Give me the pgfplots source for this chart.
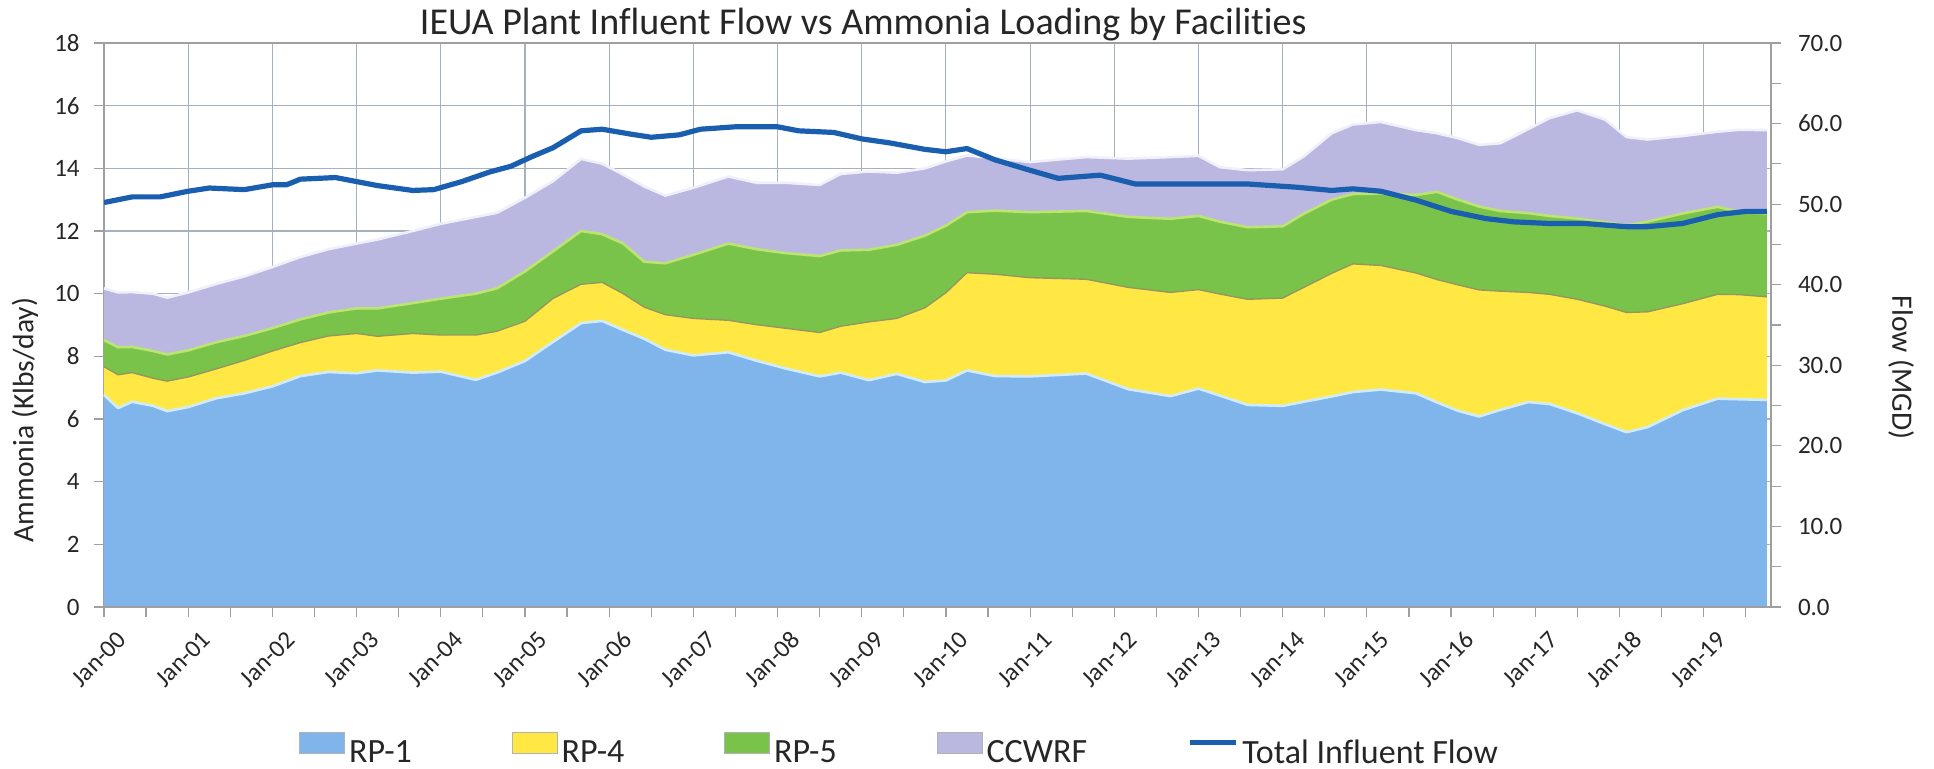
\documentclass[border=0pt]{standalone}
\usepackage{fontspec}
\setmainfont{Carlito}[Ligatures=NoCommon]
\usepackage{pgfplots}
\pgfplotsset{compat=1.18}
\usepackage{pgfplotstable}

\definecolor{rpone}{RGB}{128,181,236}
\definecolor{rponeedge}{RGB}{208,236,252}
\definecolor{rpfour}{RGB}{255,232,68}
\definecolor{rpfouredge}{RGB}{150,150,95}
\definecolor{rpfive}{RGB}{122,195,74}
\definecolor{rpfiveedge}{RGB}{188,228,112}
\definecolor{ccw}{RGB}{186,183,224}
\definecolor{ccwedge}{RGB}{240,240,252}
\definecolor{flowc}{RGB}{26,94,176}
\definecolor{gridc}{RGB}{165,178,190}

\pgfplotsset{
  boxleg/.style={legend image code/.code={\draw[##1] (0pt,0pt) rectangle (22.5pt,10.5pt);}},
  lineleg/.style={legend image code/.code={\draw[##1] (0pt,5.3pt) -- (23pt,5.3pt);}},
  chartgeom/.style={width=833.5pt, height=282pt, scale only axis, xmin=0, xmax=237.6},
}

% month index from Jan-2000, loading in Klbs/day per facility
\pgfplotstableread{
m    rp1   rp4   rp5   cc
0    6.77  0.90  0.85  1.65
2    6.35  1.06  0.88  1.75
4    6.55  0.93  0.82  1.75
7    6.42  0.88  0.87  1.83
9    6.25  0.96  0.85  1.81
12   6.38  0.96  0.85  1.85
16   6.66  0.94  0.85  1.86
20   6.82  1.05  0.78  1.90
24   7.04  1.13  0.73  1.95
28   7.37  1.07  0.74  1.99
32   7.50  1.15  0.75  2.02
36   7.46  1.27  0.80  2.07
39   7.55  1.09  0.89  2.20
44   7.48  1.25  0.97  2.30
48   7.51  1.17  1.16  2.39
53   7.25  1.43  1.32  2.45
56   7.48  1.32  1.37  2.41
60   7.85  1.27  1.59  2.35
64   8.46  1.39  1.50  2.24
68   9.06  1.24  1.70  2.30
71   9.13  1.23  1.54  2.25
74   8.84  1.16  1.60  2.20
77   8.56  1.01  1.45  2.40
80   8.21  1.12  1.64  2.16
84   8.03  1.18  2.03  2.14
89   8.13  1.02  2.45  2.14
93   7.86  1.15  2.41  2.12
97   7.62  1.28  2.40  2.24
102  7.36  1.40  2.44  2.27
105  7.48  1.48  2.42  2.44
109  7.24  1.86  2.30  2.50
113  7.44  1.77  2.35  2.30
117  7.18  2.37  2.30  2.15
120  7.23  2.80  2.14  2.05
123  7.55  3.12  1.93  1.81
127  7.37  3.25  2.03  1.67
132  7.36  3.15  2.09  1.60
140  7.45  3.01  2.18  1.72
146  6.95  3.25  2.25  1.86
152  6.73  3.31  2.35  1.97
156  6.97  3.16  2.35  1.92
159  6.75  3.24  2.31  1.74
163  6.45  3.37  2.30  1.82
168  6.42  3.44  2.29  1.82
171  6.55  3.65  2.35  1.83
175  6.72  3.93  2.35  2.12
178  6.86  4.09  2.23  2.22
182  6.94  3.96  2.30  2.28
187  6.82  3.84  2.49  2.07
190  6.53  3.92  2.80  1.87
193  6.26  4.02  2.72  1.96
196  6.08  4.04  2.66  1.97
199  6.29  3.79  2.56  2.16
203  6.54  3.50  2.53  2.68
206  6.48  3.50  2.50  3.12
210  6.18  3.64  2.58  3.45
214  5.83  3.77  2.68  3.27
217  5.58  3.82  2.78  2.82
220  5.74  3.68  2.88  2.62
225  6.28  3.40  2.88  2.47
230  6.65  3.33  2.79  2.40
233  6.63  3.34  2.65  2.61
237  6.61  3.29  2.66  2.66
}\loading

% total influent flow, MGD
\pgfplotstableread{
m    flow
0    50.2
4    50.9
8    50.9
12   51.6
15   52.0
20   51.8
24   52.4
26   52.4
28   53.1
33   53.3
36   52.8
39   52.3
44   51.7
47   51.8
51   52.8
55   54.0
58   54.7
61   55.9
64   57.0
68   59.1
71   59.3
75   58.7
78   58.3
82   58.6
85   59.3
90   59.6
96   59.6
99   59.1
104  58.9
108  58.1
112  57.6
117  56.8
120  56.5
123  56.9
127  55.5
132  54.2
136  53.2
142  53.6
147  52.5
156  52.5
163  52.5
170  52.1
175  51.7
178  51.9
182  51.6
187  50.5
192  49.1
197  48.2
201  47.8
206  47.6
211  47.6
217  47.2
220  47.2
225  47.6
230  48.7
234  49.1
237  49.1
}\flowtab

\begin{document}
\begin{tikzpicture}
\useasboundingbox (-52pt,-81pt) rectangle (915pt,303.5pt);

\begin{axis}[
  chartgeom,
  ymin=0, ymax=18,
  stack plots=y,
  xtick={0,12,...,228},
  xticklabels={Jan-00,Jan-01,Jan-02,Jan-03,Jan-04,Jan-05,Jan-06,Jan-07,Jan-08,Jan-09,
               Jan-10,Jan-11,Jan-12,Jan-13,Jan-14,Jan-15,Jan-16,Jan-17,Jan-18,Jan-19},
  minor xtick={6,18,...,234},
  ytick={0,2,...,18},
  yticklabels={0,2,4,6,8,10,12,14,16,18},
  xtick pos=bottom, ytick pos=left,
  tick align=outside,
  major tick length=5pt, minor tick length=5pt,
  grid=major,
  major grid style={draw=gridc, line width=0.55pt},
  axis line style={draw=gray!75, line width=0.6pt},
  tick style={draw=gray!75, line width=0.6pt},
  tick label style={font=\fontsize{12.5}{14}\selectfont, text=black!85},
  xticklabel style={rotate=45, anchor=east, inner sep=0pt, yshift=-13pt},
  yticklabel style={inner sep=0pt, xshift=-7pt},
  ylabel={Ammonia (Klbs/day)},
  ylabel style={at={(axis description cs:-0.0474,0.3316)}, anchor=center,
                font=\fontsize{14.8}{17}\selectfont, text=black!85},
  title={IEUA Plant Influent Flow vs Ammonia Loading by Facilities},
  every axis title/.style={at={(axis description cs:0.4555,1)}, anchor=base, yshift=4pt,
               font=\fontsize{19}{22}\selectfont, text=black!85},
]
\addplot[fill=rpone, draw=none] table[x=m,y=rp1]{\loading} \closedcycle;
\addplot[fill=rpfour, draw=none] table[x=m,y=rp4]{\loading} \closedcycle;
\addplot[fill=rpfive, draw=none] table[x=m,y=rp5]{\loading} \closedcycle;
\addplot[fill=ccw, draw=none] table[x=m,y=cc]{\loading} \closedcycle;
\end{axis}

% bevelled edges along the stacked tops, and the bottom axis line over the fill
\begin{axis}[chartgeom, ymin=0, ymax=18, hide axis, stack plots=y, clip=false]
\addplot[draw=rponeedge, line width=1.3pt, line join=round] table[x=m,y=rp1]{\loading};
\addplot[draw=rpfouredge, line width=0.7pt, line join=round] table[x=m,y=rp4]{\loading};
\addplot[draw=rpfiveedge, line width=1.3pt, line join=round] table[x=m,y=rp5]{\loading};
\addplot[draw=ccwedge, line width=1.3pt, line join=round] table[x=m,y=cc]{\loading};
\draw[gray!75, line width=0.6pt] (rel axis cs:0,0) -- (rel axis cs:1,0);
\end{axis}

\begin{axis}[
  chartgeom,
  ymin=0, ymax=70,
  axis x line=none, axis y line*=right,
  ytick={0,10,...,70},
  yticklabels={0.0,10.0,20.0,30.0,40.0,50.0,60.0,70.0},
  minor ytick={5,15,...,65},
  tick align=outside,
  major tick length=5pt, minor tick length=5pt,
  axis line style={draw=gray!75, line width=0.6pt},
  tick style={draw=gray!75, line width=0.6pt},
  tick label style={font=\fontsize{12.5}{14}\selectfont, text=black!85},
  yticklabel style={inner sep=0pt, xshift=8.3pt},
  ylabel={Flow (MGD)},
  ylabel style={at={(axis description cs:1.078,0.424)}, anchor=center, rotate=180,
                font=\fontsize{14.8}{17}\selectfont, text=black!85},
  legend columns=5,
  legend style={at={(axis description cs:0.117,-0.252)}, anchor=west,
                draw=none, fill=none, inner sep=0pt,
                font=\fontsize{17}{20}\selectfont, text=black!85,
                nodes={inner sep=0pt},
                /tikz/every even column/.append style={column sep=50pt},
                /tikz/every odd column/.append style={column sep=2pt}},
]
\addlegendimage{boxleg, fill=rpone, draw=gray!60}
\addlegendentry{RP-1}
\addlegendimage{boxleg, fill=rpfour, draw=gray!60}
\addlegendentry{RP-4}
\addlegendimage{boxleg, fill=rpfive, draw=gray!60}
\addlegendentry{RP-5}
\addlegendimage{boxleg, fill=ccw, draw=gray!60}
\addlegendentry{CCWRF}
\addplot[draw=flowc, line width=2.6pt, line join=round, lineleg] table[x=m,y=flow]{\flowtab};
\addlegendentry{Total Influent Flow}
\end{axis}
\end{tikzpicture}
\end{document}
